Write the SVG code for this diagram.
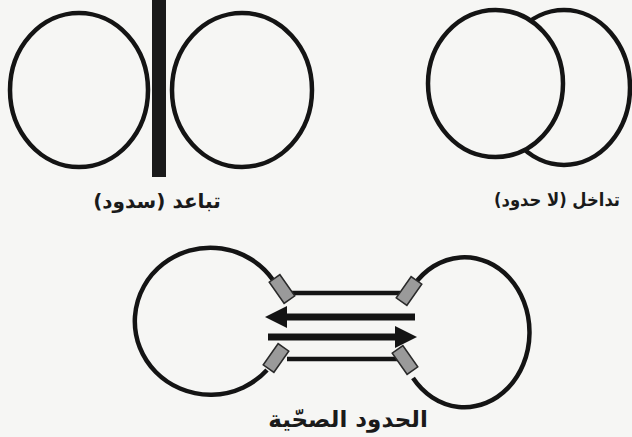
<svg xmlns="http://www.w3.org/2000/svg" width="632" height="437" viewBox="0 0 632 437">
  <style>
    .ring { fill: none; stroke: #141414; stroke-width: 4.5; }
    .ringf { fill: #f6f6f4; stroke: #141414; stroke-width: 4.5; }
    .lbl { font-family: "DejaVu Sans", "Noto Sans", sans-serif; font-weight: bold; fill: #1a1a1a; text-anchor: middle; direction: rtl; }
    .block { fill: #9a9a9a; stroke: #2a2a2a; stroke-width: 1.5; }
    .thin { stroke: #141414; stroke-width: 4.5; fill: none; }
    .thick { stroke: #141414; stroke-width: 7; fill: none; }
  </style>
  <defs>
    <marker id="head" markerUnits="userSpaceOnUse" markerWidth="22" markerHeight="22" refX="4" refY="11" orient="auto">
      <path d="M0,0 L22,11 L0,22 z" fill="#141414"/>
    </marker>
  </defs>
  <rect width="632" height="437" fill="#f6f6f4"/>

  <g id="separation">
    <ellipse class="ring" cx="79" cy="90" rx="69" ry="77"/>
    <ellipse class="ring" cx="242" cy="90" rx="70" ry="77"/>
    <rect x="152" y="0" width="14" height="177" fill="#1a1a1a"/>
    <text class="lbl" x="157" y="208" font-size="20">تباعد (سدود)</text>
  </g>

  <g id="overlap">
    <ellipse class="ring" cx="564" cy="87.5" rx="66" ry="77.5"/>
    <ellipse class="ringf" cx="495.5" cy="83.5" rx="67.5" ry="73.5"/>
    <text class="lbl" x="557" y="206" font-size="18" textLength="126" lengthAdjust="spacingAndGlyphs">تداخل (لا حدود)</text>
  </g>

  <g id="healthy">
    <path class="ring" d="M273,280 A75.6 73.5 0 1 0 267,370"/>
    <path class="ring" d="M414,285 A65 75 0 1 1 413,378"/>
    <g id="connectors">
      <line class="thin" x1="290" y1="293" x2="400" y2="293"/>
      <line class="thin" x1="287" y1="359" x2="398" y2="359"/>
      <line class="thick" x1="415" y1="317" x2="283" y2="317" marker-end="url(#head)"/>
      <line class="thick" x1="268" y1="337" x2="399" y2="337" marker-end="url(#head)"/>
    </g>
    <rect class="block" x="-13" y="-6.5" width="26" height="13" transform="translate(282,289) rotate(55)"/>
    <rect class="block" x="-13" y="-6.5" width="26" height="13" transform="translate(409,291) rotate(-55)"/>
    <rect class="block" x="-13" y="-6.5" width="26" height="13" transform="translate(276,358) rotate(-55)"/>
    <rect class="block" x="-13" y="-6.5" width="26" height="13" transform="translate(405,360) rotate(55)"/>
    <text class="lbl" x="348" y="427" font-size="23">الحدود الصحّية</text>
  </g>
</svg>
